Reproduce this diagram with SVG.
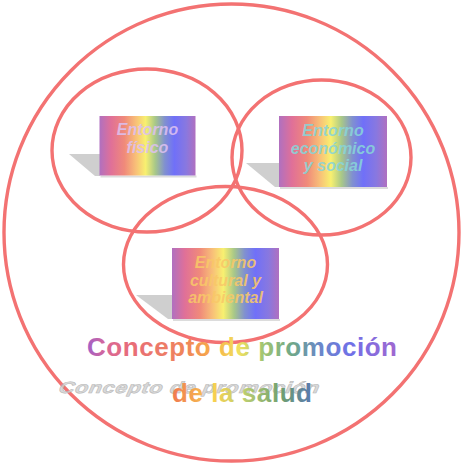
<svg xmlns="http://www.w3.org/2000/svg" width="464" height="467" viewBox="0 0 464 467">
  <defs>
    <linearGradient id="rainbow" x1="0" y1="0" x2="1" y2="0">
      <stop offset="0" stop-color="#b070c0"/>
      <stop offset="0.12" stop-color="#e07098"/>
      <stop offset="0.26" stop-color="#f08a7a"/>
      <stop offset="0.38" stop-color="#f8c078"/>
      <stop offset="0.48" stop-color="#f8f070"/>
      <stop offset="0.58" stop-color="#a8c888"/>
      <stop offset="0.68" stop-color="#8090d0"/>
      <stop offset="0.78" stop-color="#7070f8"/>
      <stop offset="0.9" stop-color="#8878e0"/>
      <stop offset="1" stop-color="#b070c0"/>
    </linearGradient>
    <linearGradient id="title1" gradientUnits="userSpaceOnUse" x1="87" y1="0" x2="397" y2="0">
      <stop offset="0" stop-color="#a060c8"/>
      <stop offset="0.06" stop-color="#d86898"/>
      <stop offset="0.14" stop-color="#e86c78"/>
      <stop offset="0.33" stop-color="#f08858"/>
      <stop offset="0.41" stop-color="#f8b048"/>
      <stop offset="0.49" stop-color="#f0e060"/>
      <stop offset="0.56" stop-color="#a8c870"/>
      <stop offset="0.66" stop-color="#70a888"/>
      <stop offset="0.75" stop-color="#6a88c8"/>
      <stop offset="0.85" stop-color="#7070e8"/>
      <stop offset="1" stop-color="#a068d0"/>
    </linearGradient>
    <linearGradient id="title2" gradientUnits="userSpaceOnUse" x1="172" y1="0" x2="312" y2="0">
      <stop offset="0" stop-color="#f07850"/>
      <stop offset="0.3" stop-color="#f8d050"/>
      <stop offset="0.5" stop-color="#c0d070"/>
      <stop offset="0.78" stop-color="#70a070"/>
      <stop offset="1" stop-color="#5878b0"/>
    </linearGradient>
  </defs>
  <style>
    .ring { fill: none; stroke: #f37272; stroke-width: 3.4; }
    .box { fill: url(#rainbow); }
    .shadow { fill: #cfcfcf; }
    .strip { fill: #dcdcdc; }
    .lbl { font-family: "Liberation Sans", Arial, sans-serif; font-size: 16px; font-weight: bold; font-style: italic; text-anchor: middle; fill-opacity: 0.88; }
    .title { font-family: "Liberation Sans", Arial, sans-serif; font-size: 26px; font-weight: bold; }
    .ghost { font-family: "Liberation Sans", Arial, sans-serif; font-size: 26px; font-weight: bold; fill: #d0d0d0; stroke: #a8a8a8; stroke-width: 0.8; opacity: 0.8; }
  </style>

  <g id="outer-circle">
    <ellipse class="ring" cx="231.5" cy="232.5" rx="227.5" ry="228.5"/>
  </g>

  <g id="connectors"></g>

  <g id="node-fisico">
    <ellipse class="ring" cx="147" cy="150.5" rx="95" ry="81.5"/>
    <polygon class="shadow" points="69,154 100,154 100,176 95,176"/>
    <rect class="strip" x="100.5" y="175.5" width="96" height="2"/>
    <rect class="box" x="99.5" y="116" width="96" height="59.5"/>
    <text class="lbl" fill="#dcc0f0" x="147.5" y="135">Entorno</text>
    <text class="lbl" fill="#dcc0f0" x="147.5" y="152.5">físico</text>
  </g>

  <g id="node-economico">
    <ellipse class="ring" cx="321.5" cy="157.5" rx="89.5" ry="77.5"/>
    <polygon class="shadow" points="246,163 279,163 279,187 275,187"/>
    <rect class="strip" x="280" y="187" width="108" height="2"/>
    <rect class="box" x="279" y="116" width="108" height="71"/>
    <text class="lbl" fill="#88d4d8" x="333" y="136">Entorno</text>
    <text class="lbl" fill="#88d4d8" x="333" y="153.5">económico</text>
    <text class="lbl" fill="#88d4d8" x="333" y="171">y social</text>
  </g>

  <g id="node-cultural">
    <ellipse class="ring" cx="225.5" cy="264.5" rx="102" ry="78"/>
    <polygon class="shadow" points="136,295 172,295 172,319 168,319"/>
    <rect class="strip" x="173" y="319" width="107" height="2"/>
    <rect class="box" x="172" y="248" width="107" height="71"/>
    <text class="lbl" fill="#f8c868" x="225.5" y="268">Entorno</text>
    <text class="lbl" fill="#f8c868" x="225.5" y="285.5">cultural y</text>
    <text class="lbl" fill="#f8c868" x="225.5" y="303">ambiental</text>
  </g>

  <g id="title">
    <text class="ghost" transform="translate(57,393) scale(0.84,0.62) skewX(-18)" x="0" y="0" textLength="310" lengthAdjust="spacing">Concepto de promoción</text>
    <text class="title" fill="url(#title1)" x="87" y="356" textLength="310" lengthAdjust="spacing">Concepto de promoción</text>
    <text class="title" fill="url(#title2)" x="172" y="402" textLength="140" lengthAdjust="spacing">de la salud</text>
  </g>
</svg>
